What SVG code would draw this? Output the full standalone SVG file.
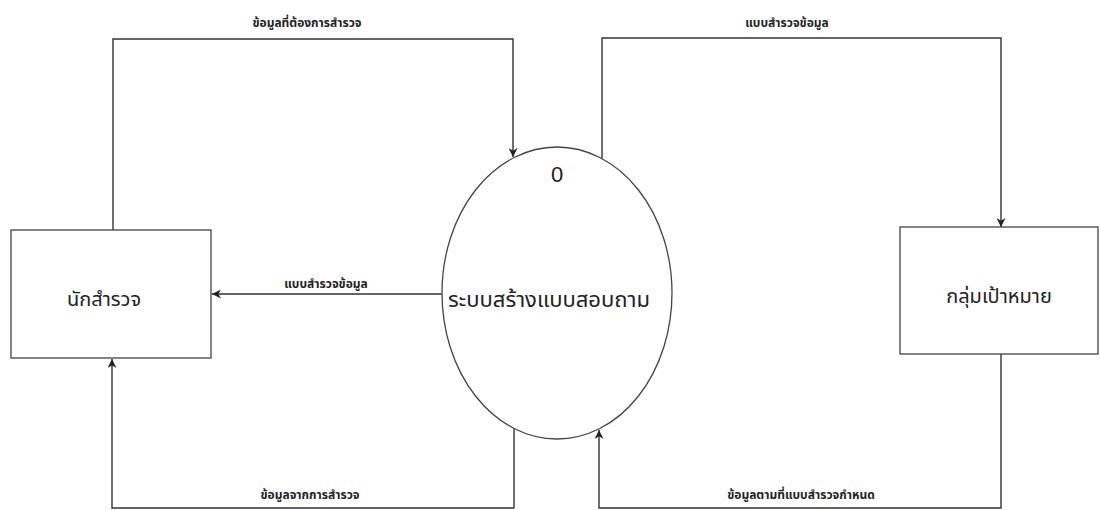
<svg xmlns="http://www.w3.org/2000/svg" width="1100" height="510" viewBox="0 0 1100 510">
<style>
.shape{fill:#fff;stroke:#444;stroke-width:1.3}
.flow{fill:none;stroke:#333;stroke-width:1.4}
.node{font-family:"Noto Sans Thai","Noto Sans","DejaVu Sans",sans-serif;font-size:20px;fill:#222;text-anchor:middle}
.lbl{font-family:"Noto Sans Thai","Noto Sans","DejaVu Sans",sans-serif;font-size:12px;font-weight:bold;fill:#222;text-anchor:middle}
</style>
<defs>
<marker id="arr" viewBox="0 0 10 10" refX="10" refY="5" markerWidth="9" markerHeight="9" orient="auto" markerUnits="userSpaceOnUse">
<path d="M0,0 L10,5 L0,10 L3,5 Z" fill="#222"/>
</marker>
</defs>
<rect width="1100" height="510" fill="#fff"/>
<g id="connectors">
<path class="flow" d="M113,230 V39 H513 V157" marker-end="url(#arr)"/>
<path class="flow" d="M602,159 V38 H1001 V227" marker-end="url(#arr)"/>
<path class="flow" d="M442,294 H212" marker-end="url(#arr)"/>
<path class="flow" d="M514,429 V508 H112 V359" marker-end="url(#arr)"/>
<path class="flow" d="M1001,354 V508 H599 V430" marker-end="url(#arr)"/>
<text class="lbl" x="307" y="27">ข้อมูลที่ต้องการสำรวจ</text>
<text class="lbl" x="787" y="27">แบบสำรวจข้อมูล</text>
<text class="lbl" x="326" y="288">แบบสำรวจข้อมูล</text>
<text class="lbl" x="310" y="499">ข้อมูลจากการสำรวจ</text>
<text class="lbl" x="801" y="499">ข้อมูลตามที่แบบสำรวจกำหนด</text>
</g>
<g id="node-surveyor">
<rect class="shape" x="11" y="230" width="200" height="128"/>
<text class="node" x="104" y="306">นักสำรวจ</text>
</g>
<g id="node-process">
<ellipse class="shape" cx="557" cy="293" rx="115" ry="146"/>
<text class="node" x="557" y="182" style="font-family:'Liberation Sans',sans-serif;font-size:22px">0</text>
<text class="node" x="549" y="307" style="font-size:22px">ระบบสร้างแบบสอบถาม</text>
</g>
<g id="node-target">
<rect class="shape" x="900" y="227" width="198" height="127"/>
<text class="node" x="999" y="303">กลุ่มเป้าหมาย</text>
</g>
</svg>
